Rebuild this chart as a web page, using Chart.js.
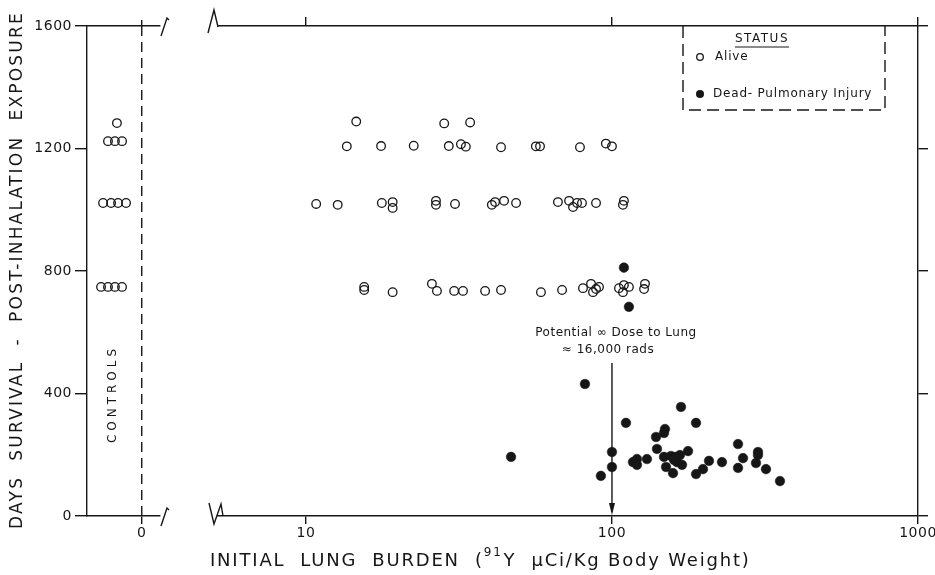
<!DOCTYPE html>
<html>
<head>
<meta charset="utf-8">
<script src="https://cdn.jsdelivr.net/npm/chart.js@4.4.1/dist/chart.umd.min.js"></script>
<style>
  html, body { margin: 0; padding: 0; background: #fff; overflow: hidden; }
  #wrap { position: relative; width: 935px; height: 575px; overflow: hidden; }
  #ctrl { position: absolute; left: 0; top: 0; }
  #main { position: absolute; left: 175px; top: 0; }
</style>
</head>
<body>
<div id="wrap">
  <canvas id="ctrl" width="200" height="575"></canvas>
  <canvas id="main" width="780" height="575"></canvas>
</div>
<script>
const INK = "#161616";
const FONT = "'DejaVu Sans', sans-serif";

// --- Data ---
const dayTicks = [0, 400, 800, 1200, 1600];
const doseTicks = [10, 100, 1000];
const ctrlTicks = [0];

// controls: position inside the controls strip, days survived
const ctrlPos  = [-1.36, -1.85, -1.47, -1.08, -2.12, -1.68, -1.30, -0.86, -2.23, -1.85, -1.47, -1.08];
const ctrlDays = [1283, 1224, 1224, 1224, 1022, 1022, 1022, 1022, 748, 748, 748, 748];

// alive (open circles): initial lung burden, days
const aliveDose = [
  14.6, 28.3, 34.4,
  13.6, 17.6, 22.5, 29.3, 32.1, 33.3, 43.4, 56.4, 58.2, 78.6, 95.5, 100,
  10.8, 12.7, 17.7, 19.2, 19.2, 26.6, 26.6, 30.7, 40.5, 41.5, 44.4, 48.6, 66.6, 72.4, 74.6, 76.9, 79.8, 88.7, 108.6, 109.4,
  15.5, 15.5, 19.2, 25.8, 26.8, 30.5, 32.6, 38.5, 43.4, 58.6, 68.7, 80.4, 85.4, 86.7, 88.7, 90.7, 105.4, 108.6, 109.4, 113.6, 128.2, 127.3
];
const aliveDays = [
  1288, 1282, 1285,
  1207, 1208, 1209, 1208, 1214, 1206, 1204, 1207, 1207, 1204, 1216, 1207,
  1019, 1016, 1022, 1025, 1006, 1029, 1016, 1019, 1016, 1025, 1029, 1022, 1025, 1029, 1009, 1022, 1022, 1022, 1016, 1029,
  748, 738, 731, 758, 735, 735, 735, 735, 738, 731, 738, 744, 758, 731, 741, 748, 744, 731, 754, 748, 758, 741
];

// dead - pulmonary injury (filled circles)
const deadDose = [
  46.8, 81.6, 109.4, 113.6, 111.1, 168.1, 188.2, 139.3, 149.0, 147.9,
  258.2, 100, 140.3, 92.0, 100, 117.1, 120.7, 120.7, 130.1, 147.9,
  150.2, 158.3, 155.9, 161.9, 166.8, 163.1, 169.4, 159.5, 177.2, 188.2,
  198.3, 207.5, 228.8, 258.2, 268, 300, 300, 295.5, 318.6, 354
];
const deadDays = [
  193, 431, 811, 683, 304, 356, 304, 258, 284, 271,
  235, 209, 219, 131, 160, 176, 186, 167, 186, 193,
  160, 140, 196, 193, 199, 176, 167, 183, 212, 137,
  153, 180, 176, 157, 189, 209, 199, 173, 153, 114
];

// potential dose marker
const markDose = 100;
const markTop = 500;

function pts(xs, ys) { return xs.map((x, i) => ({x: x, y: ys[i]})); }

const tickFont = { family: FONT, size: 14 };
const axisGrid = (len) => ({ drawOnChartArea: false, color: INK, lineWidth: 1.4, tickLength: len });
const axisBorder = { color: INK, width: 1.4 };

// --- Controls strip ---
const ctrlDecor = {
  id: "ctrlDecor",
  beforeDraw(chart) { chart.ctx.letterSpacing = "0.5px"; },
  afterDraw(chart) {
    const {ctx, chartArea: a, scales} = chart;
    const x0 = scales.x.getPixelForValue(0);
    ctx.save();
    ctx.strokeStyle = INK;
    ctx.fillStyle = INK;
    ctx.lineWidth = 1.4;
    ctx.setLineDash([10, 6]);
    ctx.beginPath(); ctx.moveTo(x0, a.top); ctx.lineTo(x0, a.bottom); ctx.stroke();
    ctx.setLineDash([]);
    // axis breaks
    [a.top, a.bottom].forEach(y => {
      ctx.beginPath();
      ctx.moveTo(a.right + 1, y + 10);
      ctx.lineTo(a.right + 7, y - 8);
      ctx.lineTo(a.right + 9, y - 6);
      ctx.stroke();
    });
    // CONTROLS label
    ctx.save();
    ctx.translate(113, 394);
    ctx.rotate(-Math.PI / 2);
    ctx.font = "12px " + FONT;
    ctx.letterSpacing = "4px";
    ctx.textAlign = "center";
    ctx.textBaseline = "middle";
    ctx.fillText("CONTROLS", 0, 0);
    ctx.restore();
    // y title
    ctx.save();
    ctx.translate(18, 270);
    ctx.rotate(-Math.PI / 2);
    ctx.font = "17px " + FONT;
    ctx.letterSpacing = "2.2px";
    ctx.textAlign = "center";
    ctx.textBaseline = "middle";
    ctx.fillText("DAYS  SURVIVAL  -  POST-INHALATION  EXPOSURE", 0, 0);
    ctx.restore();
    ctx.restore();
  }
};

new Chart(document.getElementById("ctrl"), {
  type: "scatter",
  data: {
    datasets: [{
      data: pts(ctrlPos, ctrlDays),
      pointRadius: 4.3, borderWidth: 1.3,
      borderColor: INK, backgroundColor: "rgba(0,0,0,0)"
    }]
  },
  options: {
    responsive: false, animation: false, events: [],
    layout: { padding: { left: 0, right: 40, top: 0, bottom: 0 } },
    plugins: { legend: { display: false }, tooltip: { enabled: false } },
    scales: {
      x: {
        type: "linear", position: "bottom", min: -3, max: 1,
        afterBuildTicks: s => { s.ticks = ctrlTicks.map(v => ({value: v})); },
        afterFit: s => { s.height = 59; },
        ticks: { color: INK, font: tickFont, padding: 1, callback: v => String(v) },
        grid: axisGrid(8), border: axisBorder
      },
      x2: {
        type: "linear", position: "top", min: -3, max: 1,
        afterBuildTicks: s => { s.ticks = ctrlTicks.map(v => ({value: v})); },
        afterFit: s => { s.height = 26; },
        ticks: { display: false },
        grid: axisGrid(6), border: axisBorder
      },
      y: {
        position: "left", min: 0, max: 1600,
        afterBuildTicks: s => { s.ticks = dayTicks.map(v => ({value: v})); },
        afterFit: s => { s.width = 87; },
        ticks: { color: INK, font: tickFont, padding: 3, callback: v => String(v) },
        grid: axisGrid(12), border: axisBorder
      }
    }
  },
  plugins: [ctrlDecor]
});

// --- Main panel ---
const mainDecor = {
  id: "mainDecor",
  beforeDraw(chart) { chart.ctx.letterSpacing = "0.5px"; },
  afterDraw(chart) {
    const {ctx, chartArea: a, scales} = chart;
    ctx.save();
    ctx.strokeStyle = INK;
    ctx.fillStyle = INK;
    ctx.lineWidth = 1.4;

    // axis breaks on the left
    ctx.beginPath();
    ctx.moveTo(a.left - 10, a.top + 7);
    ctx.lineTo(a.left - 4, a.top - 16);
    ctx.lineTo(a.left, a.top + 1);
    ctx.moveTo(a.left - 9, a.bottom - 13);
    ctx.lineTo(a.left - 4, a.bottom + 8);
    ctx.lineTo(a.left + 3, a.bottom - 12);
    ctx.lineTo(a.left + 5, a.bottom);
    ctx.stroke();

    // potential dose arrow
    const xl = scales.x.getPixelForValue(markDose);
    const yt = scales.y.getPixelForValue(markTop);
    ctx.beginPath();
    ctx.moveTo(xl, yt);
    ctx.lineTo(xl, a.bottom - 4);
    ctx.stroke();
    ctx.beginPath();
    ctx.moveTo(xl - 3, a.bottom - 13);
    ctx.lineTo(xl + 3, a.bottom - 13);
    ctx.lineTo(xl, a.bottom - 1);
    ctx.closePath();
    ctx.fill();
    ctx.font = "12px " + FONT;
    ctx.letterSpacing = "0.5px";
    ctx.textAlign = "center";
    ctx.textBaseline = "middle";
    ctx.fillText("Potential \u221E Dose to Lung", xl + 4, yt - 30);
    ctx.fillText("\u2248 16,000 rads", xl - 4, yt - 13);

    // legend box
    const L = a.right - 235, R = a.right - 33, T = a.top, B = a.top + 84;
    ctx.setLineDash([12, 6]);
    ctx.beginPath();
    ctx.moveTo(L, T); ctx.lineTo(L, B); ctx.lineTo(R, B); ctx.lineTo(R, T);
    ctx.stroke();
    ctx.setLineDash([]);
    ctx.font = "12px " + FONT;
    ctx.letterSpacing = "1.5px";
    ctx.textAlign = "center";
    ctx.fillText("STATUS", L + 79, T + 13);
    const sw = ctx.measureText("STATUS").width;
    ctx.lineWidth = 1.1;
    ctx.beginPath();
    ctx.moveTo(L + 79 - sw / 2, T + 21); ctx.lineTo(L + 79 + sw / 2, T + 21);
    ctx.stroke();
    ctx.letterSpacing = "0.8px";
    ctx.textAlign = "left";
    ctx.lineWidth = 1.3;
    ctx.beginPath(); ctx.arc(L + 17, T + 31, 3.3, 0, Math.PI * 2); ctx.stroke();
    ctx.fillText("Alive", L + 32, T + 31);
    ctx.beginPath(); ctx.arc(L + 17, T + 68, 4, 0, Math.PI * 2); ctx.fill();
    ctx.fillText("Dead- Pulmonary Injury", L + 30, T + 68);

    // x title with superscript isotope number
    let tx = a.left - 8;
    const ty = 561;
    ctx.textAlign = "left";
    ctx.font = "18px " + FONT;
    ctx.letterSpacing = "1.8px";
    const p1 = "INITIAL  LUNG  BURDEN  (";
    ctx.fillText(p1, tx, ty);
    tx += ctx.measureText(p1).width;
    ctx.font = "12px " + FONT;
    ctx.fillText("91", tx, ty - 8);
    tx += ctx.measureText("91").width + 1;
    ctx.font = "18px " + FONT;
    ctx.fillText("Y  \u03BCCi/Kg Body Weight)", tx, ty);
    ctx.restore();
  }
};

new Chart(document.getElementById("main"), {
  type: "scatter",
  data: {
    datasets: [
      {
        label: "Alive",
        data: pts(aliveDose, aliveDays),
        pointRadius: 4.3, borderWidth: 1.3,
        borderColor: INK, backgroundColor: "rgba(0,0,0,0)"
      },
      {
        label: "Dead- Pulmonary Injury",
        data: pts(deadDose, deadDays),
        pointRadius: 4.8, borderWidth: 0.5,
        borderColor: INK, backgroundColor: INK
      }
    ]
  },
  options: {
    responsive: false, animation: false, events: [],
    layout: { padding: { left: 43, right: 0, top: 0, bottom: 0 } },
    plugins: { legend: { display: false }, tooltip: { enabled: false } },
    scales: {
      x: {
        type: "logarithmic", position: "bottom", min: 5.16, max: 1000,
        afterBuildTicks: s => { s.ticks = doseTicks.map(v => ({value: v})); },
        afterFit: s => { s.height = 59; },
        ticks: { color: INK, font: tickFont, padding: 1, callback: v => String(v) },
        grid: axisGrid(8), border: axisBorder
      },
      x2: {
        type: "logarithmic", position: "top", min: 5.16, max: 1000,
        afterBuildTicks: s => { s.ticks = doseTicks.map(v => ({value: v})); },
        afterFit: s => { s.height = 26; },
        ticks: { display: false },
        grid: axisGrid(9), border: axisBorder
      },
      y: {
        position: "right", min: 0, max: 1600,
        afterBuildTicks: s => { s.ticks = dayTicks.map(v => ({value: v})); },
        afterFit: s => { s.width = 37; },
        ticks: { display: false },
        grid: axisGrid(10), border: axisBorder
      }
    }
  },
  plugins: [mainDecor]
});
</script>
</body>
</html>
